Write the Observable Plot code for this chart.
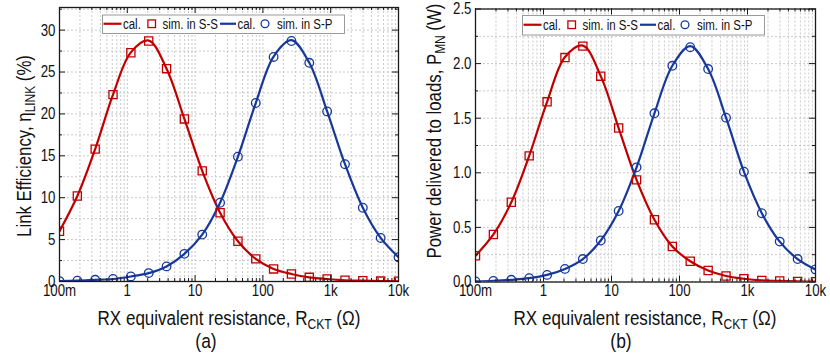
<!DOCTYPE html>
<html><head><meta charset="utf-8">
<script src="https://cdn.jsdelivr.net/npm/d3@7"></script>
<script src="https://cdn.jsdelivr.net/npm/@observablehq/plot@0.6"></script>
<style>
body{margin:0;background:#fff;}
#wrap{position:relative;width:830px;height:358px;display:flex;}
.panel{position:relative;width:415px;height:358px;}
.panel svg.plot{position:absolute;left:0;top:0;}
</style>
</head><body>
<div id="wrap"><div class="panel" id="pa"></div><div class="panel" id="pb"></div></div>
<script>
const FONT = '"Liberation Sans",Arial,sans-serif';

// RX equivalent resistance R_CKT (ohm) of the simulated points
const rCkt = [0.1, 0.1833, 0.336, 0.6158, 1.129, 2.069, 3.793, 6.952, 12.74, 23.36, 42.81, 78.48, 143.8, 263.7, 483.3, 885.9, 1624, 2976, 5456, 10000];

// (a) Link efficiency (%)
const effSimSS = [6.0, 10.2, 15.8, 22.3, 27.3, 28.7, 25.4, 19.4, 13.2, 8.2, 4.8, 2.7, 1.5, 0.9, 0.5, 0.3, 0.15, 0.1, 0.05, 0.03];
const effSimSP = [0.05, 0.1, 0.2, 0.3, 0.6, 1.0, 1.8, 3.3, 5.6, 9.4, 14.9, 21.3, 26.8, 28.7, 26.1, 20.3, 14.0, 8.8, 5.2, 2.9];
const effCalSS = [6.0, 10.2, 15.8, 22.3, 27.35, 28.75, 25.4, 19.4, 13.2, 8.2, 4.8, 2.7, 1.5, 0.9, 0.5, 0.3, 0.15, 0.1, 0.05, 0.03];
const effCalSP = [0.05, 0.1, 0.2, 0.3, 0.6, 1.0, 1.8, 3.3, 5.6, 9.4, 14.9, 21.3, 26.85, 28.8, 26.1, 20.3, 14.0, 8.8, 5.2, 2.9];

// (b) Power delivered to loads (W)
const powSimSS = [0.24, 0.435, 0.73, 1.155, 1.65, 2.055, 2.16, 1.885, 1.41, 0.935, 0.57, 0.325, 0.19, 0.105, 0.055, 0.03, 0.015, 0.01, 0.005, 0.003];
const powSimSP = [0.005, 0.01, 0.02, 0.035, 0.065, 0.12, 0.21, 0.38, 0.65, 1.05, 1.545, 1.98, 2.15, 1.95, 1.505, 1.01, 0.63, 0.37, 0.21, 0.115];
const powCalSS = [0.24, 0.435, 0.73, 1.155, 1.65, 2.06, 2.165, 1.885, 1.41, 0.935, 0.57, 0.325, 0.19, 0.105, 0.055, 0.03, 0.015, 0.01, 0.005, 0.003];
const powCalSP = [0.005, 0.01, 0.02, 0.035, 0.065, 0.12, 0.21, 0.38, 0.65, 1.05, 1.545, 1.98, 2.16, 1.95, 1.505, 1.01, 0.63, 0.37, 0.21, 0.115];

// ticks
const xTickValues = [0.1, 1, 10, 100, 1000, 10000];
const xTickLabels = ["100m", "1", "10", "100", "1k", "10k"];
const effTicks = [0, 5, 10, 15, 20, 25, 30];
const powTicks = [0, 0.5, 1.0, 1.5, 2.0, 2.5];

const legendLabels = ["cal.", "sim. in S-S", "cal.", "sim. in S-P"];

const RED = "#c00000", BLUE = "#17389a";
const GRID = "#c9c9c9", AXIS = "#1a1a1a";

function rows(v) { return rCkt.map((r, i) => ({r, v: v[i]})); }

function makePanel(el, o) {
  const W = 415, H = 358;
  const fh = H - o.mt - o.mb, fw = W - o.ml - o.mr;
  const minorX = [];
  for (const d of [0.1, 1, 10, 100, 1000]) for (let m = 2; m <= 9; m++) minorX.push(d * m);
  const yMinor = o.yTicks.slice(0, -1).map((t, i) => (t + o.yTicks[i + 1]) / 2);
  if (o.yDomain[1] > o.yTicks[o.yTicks.length - 1] + o.yMinorStep * 0.99) yMinor.push(o.yTicks[o.yTicks.length - 1] + o.yMinorStep);
  const tick = (arr, len, side) => {
    const opt = {stroke: AXIS, strokeWidth: 1};
    if (side === "b") opt.insetTop = fh - len;
    if (side === "t") opt.insetBottom = fh - len;
    if (side === "l") opt.insetRight = fw - len;
    if (side === "r") opt.insetLeft = fw - len;
    return (side === "b" || side === "t") ? Plot.ruleX(arr, opt) : Plot.ruleY(arr, opt);
  };
  const svg = Plot.plot({
    width: W, height: H,
    marginLeft: o.ml, marginRight: o.mr, marginTop: o.mt, marginBottom: o.mb,
    x: {type: "log", domain: [0.1, 10000]},
    y: {domain: o.yDomain},
    style: {fontFamily: FONT, fontSize: "17px", color: "#111", background: "transparent"},
    marks: [
      Plot.ruleX(xTickValues.concat(minorX), {stroke: GRID, strokeWidth: 1, strokeDasharray: "2,2"}),
      Plot.ruleY(o.yTicks.concat(yMinor), {stroke: GRID, strokeWidth: 1, strokeDasharray: "2,2"}),
      Plot.line(rows(o.calSS), {x: "r", y: "v", stroke: RED, strokeWidth: 2.2, curve: "catmull-rom", clip: true}),
      Plot.line(rows(o.calSP), {x: "r", y: "v", stroke: BLUE, strokeWidth: 2.2, curve: "catmull-rom", clip: true}),
      Plot.dot(rows(o.simSS), {x: "r", y: "v", symbol: "square", r: 4.6, stroke: RED, strokeWidth: 1.3, fill: "none", clip: true}),
      Plot.dot(rows(o.simSP), {x: "r", y: "v", symbol: "circle", r: 4.3, stroke: BLUE, strokeWidth: 1.3, fill: "none", clip: true}),
      Plot.frame({stroke: AXIS, strokeWidth: 1.3}),
      tick(xTickValues, 6, "b"), tick(xTickValues, 6, "t"),
      tick(minorX, 3, "b"), tick(minorX, 3, "t"),
      tick(o.yTicks, 6, "l"), tick(o.yTicks, 6, "r"),
      tick(yMinor, 3, "l"), tick(yMinor, 3, "r"),
      Plot.axisX({ticks: xTickValues, tickSize: 0, tickPadding: 2, label: null,
        tickFormat: d => xTickLabels[xTickValues.indexOf(d)]}),
      Plot.axisY({ticks: o.yTicks, tickSize: 0, tickPadding: 4, label: null, tickFormat: o.yFmt})
    ]
  });
  svg.classList.add("plot");
  el.appendChild(svg);
  const s = d3.select(svg);
  // x title
  const xt = s.append("text").attr("x", o.xtX).attr("y", 325).attr("text-anchor", "middle")
    .attr("font-size", 20.5).attr("fill", "#111").attr("data-sq", 0.83);
  xt.append("tspan").text("RX equivalent resistance, R");
  xt.append("tspan").attr("font-size", 14.5).attr("dy", 4).text("CKT");
  xt.append("tspan").attr("dy", -4).text(" (\u03A9)");
  // y title
  const yt = s.append("text").attr("transform", `translate(${o.ytX},${o.ytY}) rotate(-90)`)
    .attr("text-anchor", "middle").attr("font-size", 20.5).attr("fill", "#111").attr("data-sq", 0.82);
  yt.append("tspan").text(o.yTitle[0]);
  yt.append("tspan").attr("font-size", 14.5).attr("dy", 4).text(o.yTitle[1]);
  yt.append("tspan").attr("dy", -4).text(o.yTitle[2]);
  // panel label
  s.append("text").attr("x", o.pX).attr("y", 348).attr("text-anchor", "middle")
    .attr("font-size", 20.5).attr("fill", "#111").attr("data-sq", 0.85).text(o.panelLabel);
  // legend
  const [lx, ly, lh] = o.lg;
  const g = s.append("g").attr("transform", `translate(${lx},${ly})`);
  const cy = lh / 2;
  g.append("rect").attr("x", 0.5).attr("y", 0.5).attr("width", 242).attr("height", lh)
    .attr("fill", "#fff").attr("stroke", "#9a9a9a");
  g.append("line").attr("x1", 1.5).attr("x2", 19.5).attr("y1", cy).attr("y2", cy).attr("stroke", RED).attr("stroke-width", 2.2);
  g.append("rect").attr("x", 49.7 - 3.8).attr("y", cy - 3.8).attr("width", 7.6).attr("height", 7.6)
    .attr("fill", "none").attr("stroke", RED).attr("stroke-width", 1.3);
  g.append("line").attr("x1", 118).attr("x2", 134).attr("y1", cy).attr("y2", cy).attr("stroke", BLUE).attr("stroke-width", 2.2);
  g.append("circle").attr("cx", 163).attr("cy", cy).attr("r", 3.9)
    .attr("fill", "none").attr("stroke", BLUE).attr("stroke-width", 1.3);
  [[21, 0], [60.5, 1], [135.5, 2], [175, 3]].forEach(([x, i]) =>
    g.append("text").attr("x", x).attr("y", cy + 5).attr("text-anchor", "start")
      .attr("font-size", 14).attr("fill", "#111").attr("data-sq", 0.82).text(legendLabels[i]));
  // narrow the sans font to match the condensed lettering of the original
  svg.querySelectorAll("text").forEach(t => {
    const sq = +(t.getAttribute("data-sq") || 0.78);
    const L = t.getComputedTextLength();
    if (L > 0) { t.setAttribute("textLength", (L * sq).toFixed(2)); t.setAttribute("lengthAdjust", "spacingAndGlyphs"); }
  });
}

makePanel(document.getElementById("pa"), {
  mt: 7, mb: 77, ml: 59, mr: 17, yDomain: [0, 32.7], yTicks: effTicks, yMinorStep: 2.5,
  yFmt: d => String(d), simSS: effSimSS, simSP: effSimSP, calSS: effCalSS, calSP: effCalSP,
  xtX: 229, ytX: 31, ytY: 146, yTitle: ["Link Efficiency, \u03B7", "LINK", " (%)"],
  pX: 206, panelLabel: "(a)", lg: [102, 14.5, 18.5]
});
makePanel(document.getElementById("pb"), {
  mt: 8.5, mb: 76.5, ml: 60, mr: 15, yDomain: [0, 2.5], yTicks: powTicks, yMinorStep: 0.25,
  yFmt: d => d.toFixed(1), simSS: powSimSS, simSP: powSimSP, calSS: powCalSS, calSP: powCalSP,
  xtX: 230, ytX: 26, ytY: 131, yTitle: ["Power delivered to loads, P", "MN", " (W)"],
  pX: 206, panelLabel: "(b)", lg: [107, 15, 19.5]
});
</script>
</body></html>
